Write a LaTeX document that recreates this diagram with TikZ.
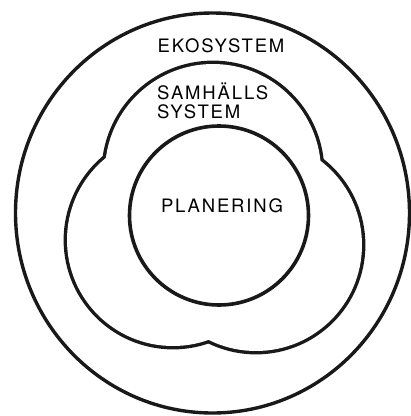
\documentclass[tikz,border=0pt]{standalone}
\usepackage{fontspec}
\newfontfamily\labfont[LetterSpace=10]{TeX Gyre Heros}
\begin{document}
\begin{tikzpicture}[x=1pt,y=-1pt,
  ring/.style={draw=black!90,line width=3.4pt},
  lab/.style={inner sep=0pt,font=\labfont\fontsize{18.5}{20}\selectfont,text=black}]
\useasboundingbox (0,0) rectangle (411,416);
% outer ecosystem ring
\draw[ring] (212.5,213) ellipse [x radius=197,y radius=200];
% society system: union of three lobes (outline via double stroke + white fill)
\begin{scope}
  \draw[draw=black!90,line width=6.8pt] (213,172) circle [radius=108];
  \draw[draw=black!90,line width=6.8pt] (173,240) circle [radius=106];
  \draw[draw=black!90,line width=6.8pt] (256,245) circle [radius=106];
  \fill[white] (213,172) circle [radius=108];
  \fill[white] (173,240) circle [radius=106];
  \fill[white] (256,245) circle [radius=106];
\end{scope}
% planning circle
\draw[ring,line width=3.6pt] (219,215.5) circle [radius=89.5];
% labels
\node[lab,anchor=base] (eko) at (221,52) {EKOSYSTEM};
\node[lab,anchor=base west] (sam) at (157,99) {SAMHÄLLS};
\node[lab,anchor=base west] (sys) at (157,118) {SYSTEM};
\node[lab,anchor=base] (plan) at (222,212) {PLANERING};
\end{tikzpicture}
\end{document}
